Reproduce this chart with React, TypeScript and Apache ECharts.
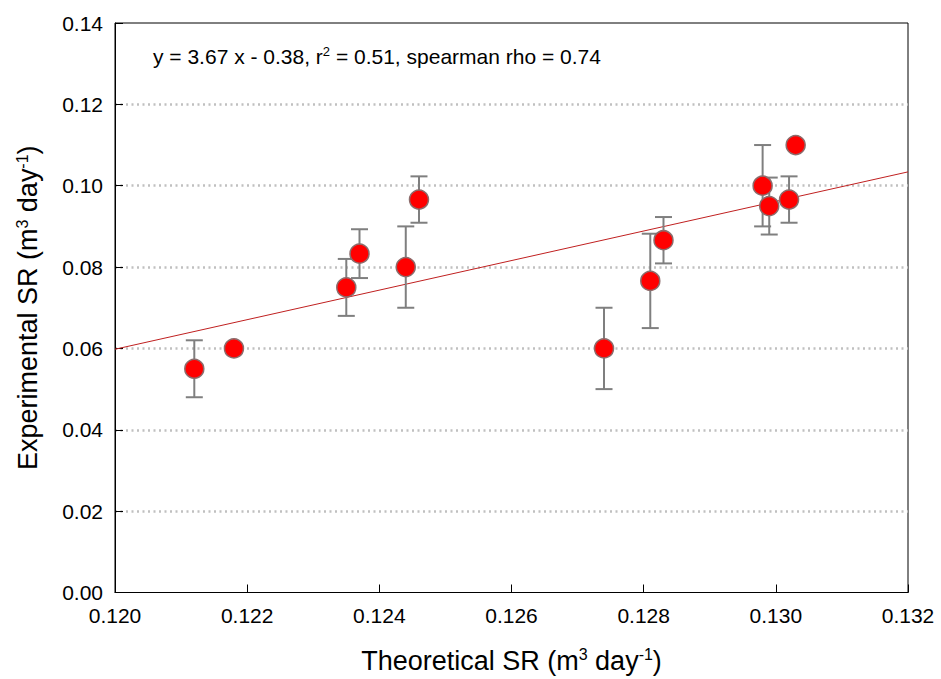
import React, { useEffect, useRef } from "react";
import * as echarts from "echarts";

const theoreticalSR = [0.1212, 0.1218, 0.1235, 0.1237, 0.1244, 0.1246, 0.1274, 0.1281, 0.1283, 0.1298, 0.1299, 0.1302, 0.1303];
const experimentalSR = [0.055, 0.06, 0.075, 0.0833, 0.08, 0.0966, 0.06, 0.0766, 0.0866, 0.1, 0.095, 0.0966, 0.11];
const errorSR = [0.007, 0, 0.007, 0.006, 0.01, 0.0057, 0.01, 0.0116, 0.0057, 0.01, 0.007, 0.0057, 0];
const fitLine = [
  [0.12, 0.0598],
  [0.132, 0.1034],
];
const xTicks = [0.12, 0.122, 0.124, 0.126, 0.128, 0.13, 0.132];
const yTicks = [0, 0.02, 0.04, 0.06, 0.08, 0.1, 0.12, 0.14];

const FONT = "'Liberation Sans', Arial, sans-serif";

export default function App() {
  const ref = useRef<HTMLDivElement>(null);
  useEffect(() => {
    document.body.style.margin = "0";
    const chart = echarts.init(ref.current!, null, { renderer: "svg" });
    const errData = theoreticalSR.map((x, i) => [x, experimentalSR[i], errorSR[i]]);
    const titleRich = {
      m: { fontSize: 27, color: "#000", fontFamily: FONT },
      s: { fontSize: 16, color: "#000", fontFamily: FONT, verticalAlign: "top", padding: [0, 0, 12, 0] },
    };
    chart.setOption({
      animation: false,
      backgroundColor: "#fff",
      textStyle: { fontFamily: FONT },
      grid: {
        left: 115,
        top: 23,
        width: 793,
        height: 571,
        show: true,
        borderColor: "#000",
        borderWidth: 1,
        backgroundColor: "transparent",
      },
      xAxis: {
        type: "value",
        min: xTicks[0],
        max: xTicks[xTicks.length - 1],
        interval: 0.002,
        axisLine: { show: true, lineStyle: { color: "#000", width: 1 } },
        axisTick: { show: true, inside: true, length: 8, lineStyle: { color: "#000" } },
        splitLine: { show: false },
        axisLabel: {
          color: "#000",
          fontSize: 21,
          fontFamily: FONT,
          margin: 12,
          formatter: (v: number) => v.toFixed(3),
        },
        name: "{m|Theoretical SR (m}{s|3}{m| day}{s|-1}{m|)}",
        nameLocation: "middle",
        nameGap: 54,
        nameTextStyle: { rich: titleRich },
      },
      yAxis: {
        type: "value",
        min: yTicks[0],
        max: yTicks[yTicks.length - 1],
        interval: 0.02,
        axisLine: { show: true, lineStyle: { color: "#000", width: 1 } },
        axisTick: { show: true, inside: true, length: 8, lineStyle: { color: "#000" } },
        splitLine: {
          show: true,
          showMinLine: false,
          showMaxLine: false,
          lineStyle: { color: "#c0c0c0", width: 2.5, type: [2, 3.5] },
        },
        axisLabel: {
          color: "#000",
          fontSize: 21,
          fontFamily: FONT,
          margin: 12,
          formatter: (v: number) => v.toFixed(2),
        },
        name: "{m|Experimental SR (m}{s|3}{m| day}{s|-1}{m|)}",
        nameLocation: "middle",
        nameGap: 73,
        nameRotate: 90,
        nameTextStyle: { rich: titleRich },
      },
      graphic: [
        {
          type: "text",
          left: 153,
          top: 45,
          style: {
            text: "{m|y = 3.67 x - 0.38, r}{s|2}{m| = 0.51, spearman rho = 0.74}",
            rich: {
              m: { fontSize: 21, fill: "#000", fontFamily: FONT },
              s: { fontSize: 13, fill: "#000", fontFamily: FONT, verticalAlign: "top", padding: [0, 0, 9, 0] },
            },
          },
        },
      ],
      series: [
        {
          type: "line",
          data: fitLine,
          showSymbol: false,
          symbol: "none",
          lineStyle: { color: "#c02020", width: 1 },
          z: 2,
          silent: true,
        },
        {
          type: "custom",
          data: errData,
          z: 3,
          renderItem: (params: any, api: any) => {
            const x = api.value(0);
            const y = api.value(1);
            const e = api.value(2);
            if (!e) return null;
            const top = api.coord([x, y + e]);
            const bot = api.coord([x, y - e]);
            const hw = 8.5;
            const style = { stroke: "#7f7f7f", lineWidth: 2 };
            return {
              type: "group",
              children: [
                { type: "line", shape: { x1: top[0], y1: top[1], x2: bot[0], y2: bot[1] }, style },
                { type: "line", shape: { x1: top[0] - hw, y1: top[1], x2: top[0] + hw, y2: top[1] }, style },
                { type: "line", shape: { x1: bot[0] - hw, y1: bot[1], x2: bot[0] + hw, y2: bot[1] }, style },
              ],
            };
          },
        },
        {
          type: "scatter",
          data: theoreticalSR.map((x, i) => [x, experimentalSR[i]]),
          symbol: "circle",
          symbolSize: 19,
          itemStyle: { color: "#ff0000", borderColor: "#8c6c6c", borderWidth: 1.5, opacity: 1 },
          z: 4,
        },
      ],
    });
    return () => chart.dispose();
  }, []);
  return <div ref={ref} style={{ width: 941, height: 679 }} />;
}
